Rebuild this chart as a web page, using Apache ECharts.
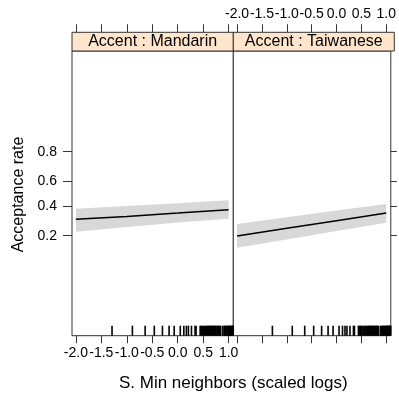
<!DOCTYPE html>
<html>
<head>
<meta charset="utf-8">
<script src="https://cdn.jsdelivr.net/npm/echarts@6/dist/echarts.min.js"></script>
<style>
html,body{margin:0;padding:0;background:#fff;}
#c{width:399px;height:397px;}
</style>
</head>
<body>
<div id="c"></div>
<script>
// ---- data ----
const panels = ['Accent : Mandarin', 'Accent : Taiwanese'];
const xTicks = [-2.0, -1.5, -1.0, -0.5, 0.0, 0.5, 1.0];
const yTickProbs = [0.2, 0.4, 0.6, 0.8];
const xFit = [-2.0, -1.0, 0.0, 1.0];
const mandarinFit = [0.300, 0.321, 0.345, 0.371];
const mandarinLower = [0.222, 0.250, 0.278, 0.305];
const mandarinUpper = [0.379, 0.400, 0.422, 0.446];
const taiwaneseFit = [0.198, 0.242, 0.291, 0.346];
const taiwaneseLower = [0.144, 0.181, 0.226, 0.277];
const taiwaneseUpper = [0.269, 0.314, 0.364, 0.416];
const rugValues = [-1.29, -0.89, -0.64, -0.46, -0.30, -0.17, -0.07, 0.05, 0.12, 0.17, 0.21, 0.27, 0.34, 0.36, 0.44, 0.46,
  0.48, 0.50, 0.53, 0.55, 0.57, 0.59, 0.61, 0.63, 0.64, 0.66, 0.67, 0.69, 0.70, 0.72, 0.74, 0.75, 0.77, 0.79, 0.80,
  0.82, 0.84, 0.88, 0.91, 0.92, 0.94, 0.95, 0.97, 0.99, 1.00, 1.01, 1.02, 1.03, 1.05, 1.06, 1.07, 1.08, 1.09];

// ---- helpers ----
const logit = p => Math.log(p / (1 - p));
const invlogit = l => 1 / (1 + Math.exp(-l));
const FONT = "'Liberation Sans', Arial, sans-serif";
const xMin = -2.076, xMax = 1.091;
const yMin = -4.687, yMax = 4.709;
const gTop = 51, gHeight = 284.7;
const grids = [
  {left: 72, top: gTop, width: 161.3, height: gHeight},
  {left: 233.3, top: gTop, width: 161, height: gHeight}
];
const frameColor = '#333';
const yTickVals = yTickProbs.map(logit);

const chart = echarts.init(document.getElementById('c'), null, {renderer: 'canvas'});

const gridOpts = grids.map(g => Object.assign({show: true, borderColor: frameColor, borderWidth: 1, backgroundColor: '#fff'}, g));

const xAxes = [];
grids.forEach((g, i) => {
  xAxes.push({
    type: 'value', gridIndex: i, position: 'bottom', min: xMin, max: xMax,
    axisLine: {show: false, onZero: false},
    axisTick: {show: true, length: 7.5, lineStyle: {color: frameColor}, customValues: xTicks},
    axisLabel: {show: i === 0, customValues: xTicks, margin: 10, color: '#000', fontSize: 14, fontFamily: FONT,
      formatter: v => v.toFixed(1)},
    splitLine: {show: false}
  });
  xAxes.push({
    type: 'value', gridIndex: i, position: 'top', offset: 18.7, min: xMin, max: xMax,
    axisLine: {show: false, onZero: false},
    axisTick: {show: true, length: 8, lineStyle: {color: frameColor}, customValues: xTicks},
    axisLabel: {show: i === 1, customValues: xTicks, margin: 11, color: '#000', fontSize: 14, fontFamily: FONT,
      formatter: v => v.toFixed(1)},
    splitLine: {show: false}
  });
});

const yAxes = grids.map((g, i) => ({
  type: 'value', gridIndex: i, position: i === 0 ? 'left' : 'right', min: yMin, max: yMax,
  axisLine: {show: false, onZero: false},
  axisTick: {show: true, length: i === 0 ? 9 : 6, lineStyle: {color: frameColor}, customValues: yTickVals},
  axisLabel: {show: i === 0, customValues: yTickVals, margin: 15, color: '#000', fontSize: 14, fontFamily: FONT,
    formatter: v => invlogit(v).toFixed(1)},
  splitLine: {show: false}
}));

const fits = [mandarinFit, taiwaneseFit];
const lowers = [mandarinLower, taiwaneseLower];
const uppers = [mandarinUpper, taiwaneseUpper];

const series = [];
grids.forEach((g, i) => {
  const xa = i * 2, ya = i;
  series.push({
    type: 'custom', xAxisIndex: xa, yAxisIndex: ya, silent: true, z: 1,
    data: xFit.map((x, k) => [x, logit(lowers[i][k]), logit(uppers[i][k])]),
    encode: {x: 0, y: [1, 2]},
    renderItem: (params, api) => {
      if (params.dataIndex !== 0) return null;
      const up = xFit.map((x, k) => api.coord([x, logit(uppers[i][k])]));
      const lo = xFit.map((x, k) => api.coord([x, logit(lowers[i][k])])).reverse();
      return {type: 'polygon', shape: {points: up.concat(lo)}, style: {fill: '#d8d8d8'}};
    }
  });
  series.push({
    type: 'line', xAxisIndex: xa, yAxisIndex: ya, symbol: 'none', silent: true,
    lineStyle: {color: '#000', width: 1.5}, data: xFit.map((x, k) => [x, logit(fits[i][k])]), z: 3
  });
  series.push({
    type: 'custom', xAxisIndex: xa, yAxisIndex: ya, silent: true, z: 4,
    data: rugValues.map(v => [v]),
    encode: {x: 0},
    renderItem: (params, api) => {
      const p = api.coord([api.value(0), yMin]);
      return {type: 'line', shape: {x1: p[0], y1: p[1], x2: p[0], y2: p[1] - 10},
        style: {stroke: '#000', lineWidth: 1.6}};
    }
  });
});

const graphics = [];
grids.forEach((g, i) => {
  graphics.push({type: 'rect', shape: {x: g.left, y: 32.3, width: g.width, height: 18.7},
    style: {fill: '#ffe5cc', stroke: frameColor, lineWidth: 1}, z: 10});
  graphics.push({type: 'text', x: g.left + g.width / 2, y: 42, z: 11,
    style: {text: panels[i], fontSize: 16, fontFamily: FONT, fill: '#000', align: 'center', verticalAlign: 'middle'}});
});
graphics.push({type: 'text', x: 233.3, y: 383, z: 11,
  style: {text: 'S. Min neighbors (scaled logs)', fontSize: 17, fontFamily: FONT, fill: '#000', align: 'center', verticalAlign: 'middle'}});
graphics.push({type: 'text', x: 19, y: 194.5, rotation: Math.PI / 2, z: 11,
  style: {text: 'Acceptance rate', fontSize: 16, fontFamily: FONT, fill: '#000', align: 'center', verticalAlign: 'middle'}});

chart.setOption({
  animation: false,
  backgroundColor: '#fff',
  grid: gridOpts,
  xAxis: xAxes,
  yAxis: yAxes,
  series: series,
  graphic: graphics
});
</script>
</body>
</html>
